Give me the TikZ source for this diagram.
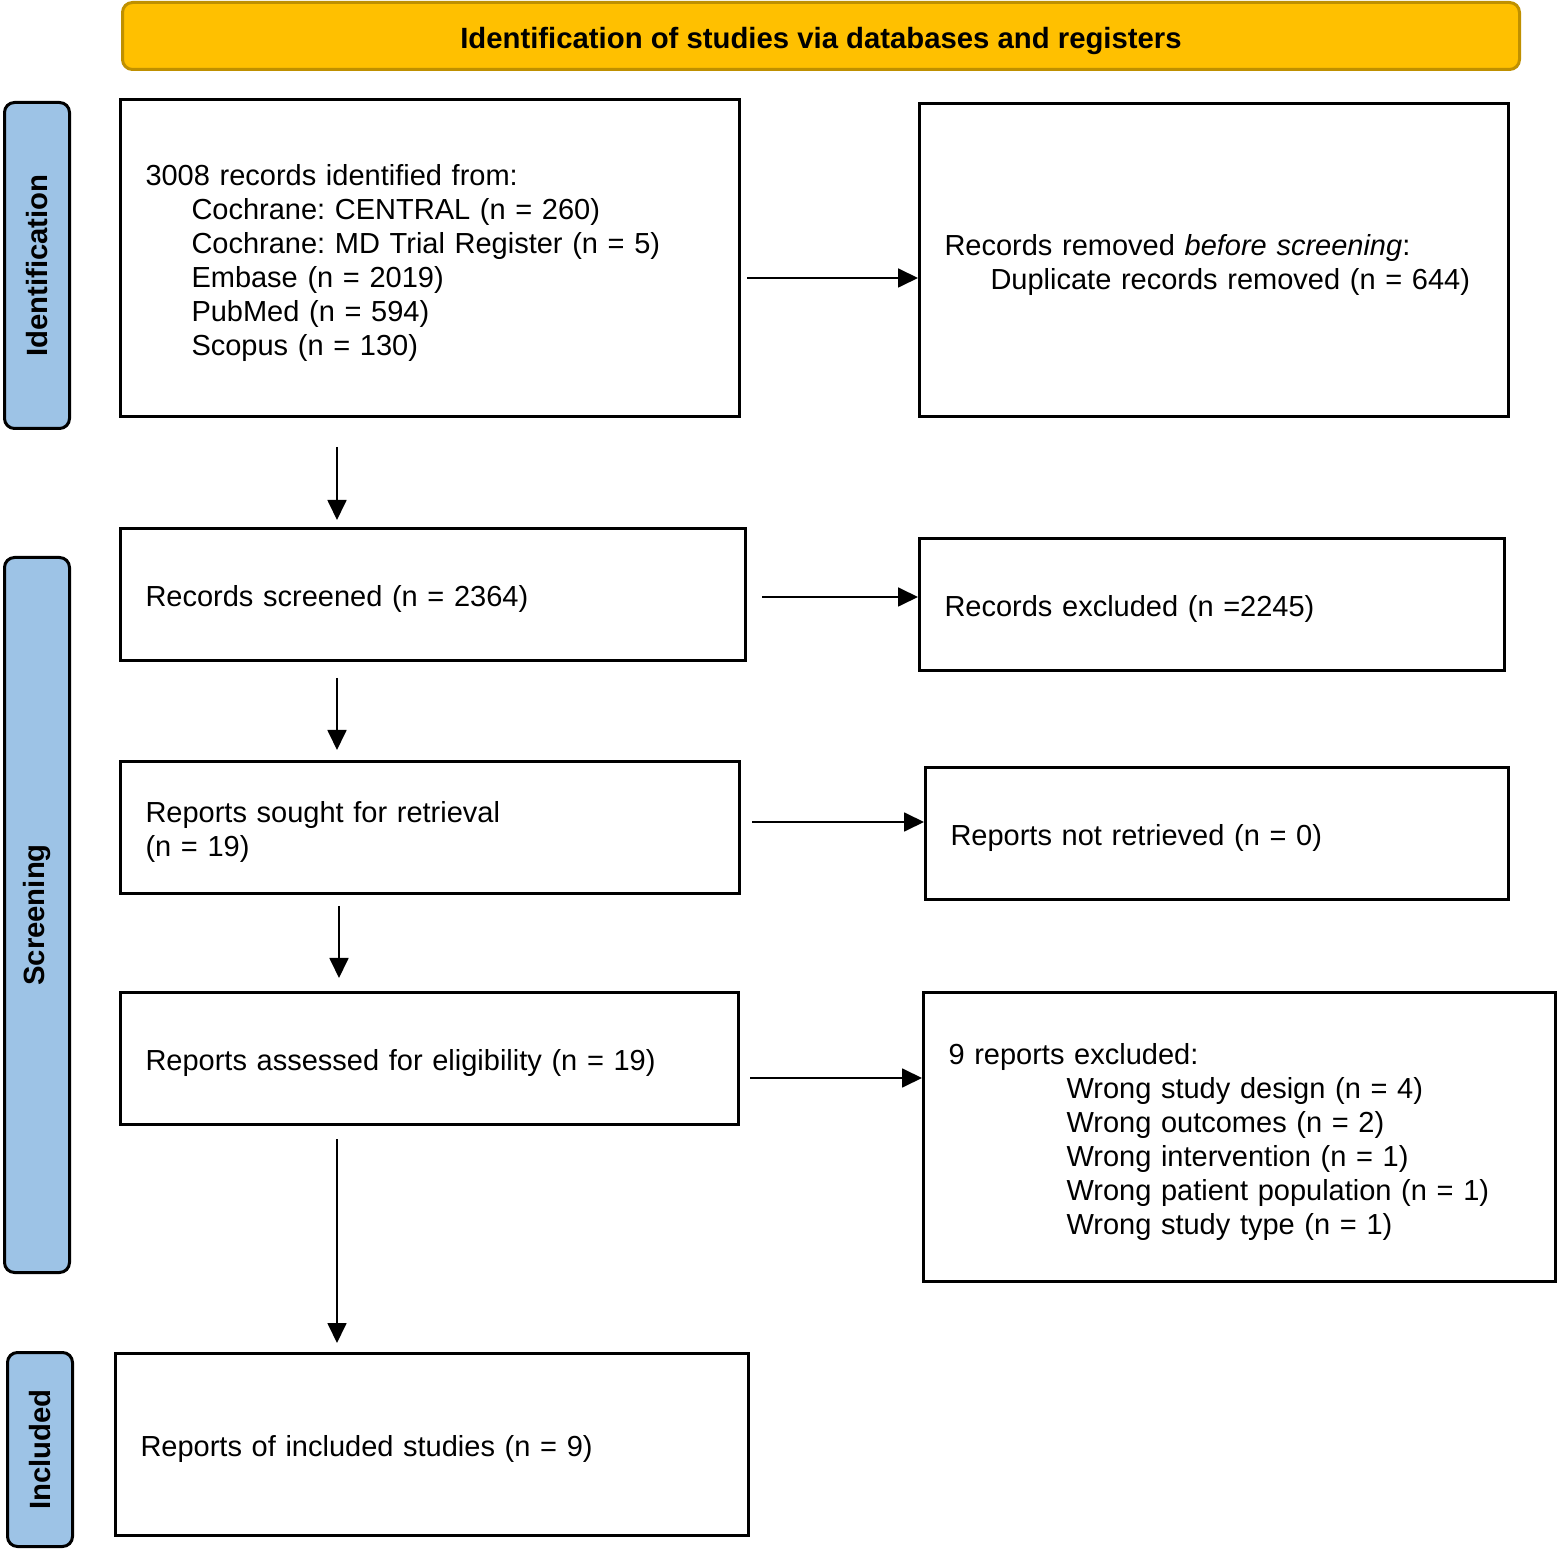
\documentclass[tikz,border=0pt]{standalone}
\usepackage{fontspec}
\setmainfont{Liberation Sans}
\frenchspacing
\definecolor{head}{RGB}{255,192,0}
\definecolor{head-line}{RGB}{191,144,0}
\definecolor{phase}{RGB}{157,195,230}
\usetikzlibrary{
  arrows.meta,     % triangle arrow tips
  positioning      % positions like below of node
}
\tikzset{
  node distance=4ex and 4ex,
  every node/.style = {
    font=\fontsize{14.5pt}{17pt}\selectfont
  },
  box/.style 2 args = {
    rectangle,
    draw,
    line width=1.5pt,
    text width=#1,
    minimum height=#2,
    inner xsep=12.5pt,
    inner ysep=3pt,
    align=left,
    execute at begin node={\rule{0pt}{15.5pt}}
  },
  phase/.style = {
    rectangle,
    rounded corners=5pt,
    draw,
    line width=1.5pt,
    fill=phase,
    rotate=90,
    minimum height=32.5pt,
    font=\fontsize{14.65pt}{17pt}\selectfont\bfseries
  },
  header/.style = {
    rectangle,
    rounded corners=5pt,
    draw=head-line,
    line width=1.5pt,
    fill=head,
    minimum width=698.5pt,
    minimum height=33.5pt,
    font=\fontsize{14.65pt}{17pt}\selectfont\bfseries,
    execute at begin node={\rule{0pt}{15.5pt}}
  },
  flow/.style = {line width=0.9pt},
  ->,        % arrows for all
  >={Triangle[length=10pt,width=9.5pt]}  % arrow type
}
\newcommand{\ind}[1]{\hspace*{#1}}

\begin{document}
\begin{tikzpicture}[x=0.5pt,y=-0.5pt]

  \useasboundingbox (0,0) rectangle (1559,1550);

  %% nodes
  \node[header] (title) at (821,36) {Identification of studies via databases and registers};

  \node[phase, minimum width=163pt] (ident) at (37,265.5) {Identification};
  \node[phase, minimum width=357.5pt] (screen) at (37,915) {Screening};
  \node[phase, minimum width=97pt] (incl) at (40,1449.5) {Included};

  \node[box={284.5pt}{158.5pt}, anchor=north west] (rec) at (119,98)
    {3008 records identified from:\\
     \ind{23pt}Cochrane: CENTRAL (n = 260)\\
     \ind{23pt}Cochrane: MD Trial Register (n = 5)\\
     \ind{23pt}Embase (n = 2019)\\
     \ind{23pt}PubMed (n = 594)\\
     \ind{23pt}Scopus (n = 130)};

  \node[box={269.5pt}{156.5pt}, right=88.5pt of rec.north east, anchor=north west, yshift=-2pt] (dup)
    {Records removed \textit{before screening}:\\
     \ind{23pt}Duplicate records removed (n = 644)};

  \node[box={287.5pt}{66pt}, below=54.5pt of rec.south west, anchor=north west] (scr)
    {Records screened (n = 2364)};

  \node[box={267.5pt}{66pt}, right=85.5pt of scr.north east, anchor=north west, yshift=-5pt] (excl)
    {Records excluded (n =2245)};

  \node[box={284.5pt}{66pt}, below=49pt of scr.south west, anchor=north west] (sought)
    {Reports sought for retrieval\\(n = 19)};

  \node[box={266.5pt}{66pt}, right=91.5pt of sought.north east, anchor=north west, yshift=-3pt] (notret)
    {Reports not retrieved (n = 0)};

  \node[box={284pt}{66pt}, below=48pt of sought.south west, anchor=north west] (elig)
    {Reports assessed for eligibility (n = 19)};

  \node[box={291pt}{144.5pt}, right=91pt of elig.north east, anchor=north west] (why)
    {9 reports excluded:\\
     \ind{59pt}Wrong study design (n = 4)\\
     \ind{59pt}Wrong outcomes (n = 2)\\
     \ind{59pt}Wrong intervention (n = 1)\\
     \ind{59pt}Wrong patient population (n = 1)\\
     \ind{59pt}Wrong study type (n = 1)};

  \node[box={291.5pt}{91pt}, below=113pt of elig.south west, anchor=north west, xshift=-2.5pt] (studies)
    {Reports of included studies (n = 9)};

  \coordinate (col) at (337,0);
  \coordinate (colb) at (339,0);

  %% arrows
  \draw[flow, shorten <=14.5pt, shorten >=3.5pt] (rec.south -| col) -- (scr.north -| col);
  \draw[flow, shorten <=8pt, shorten >=5pt] (scr.south -| col) -- (sought.north -| col);
  \draw[flow, shorten <=5.5pt, shorten >=6.5pt] (sought.south -| colb) -- (elig.north -| colb);
  \draw[flow, shorten <=6.5pt, shorten >=4.5pt] (elig.south -| col) -- (studies.north -| col);

  \draw[flow, shorten <=3pt] ([yshift=-10pt]rec.east) -- ([yshift=-10pt]rec.east -| dup.west);
  \draw[flow, shorten <=7.5pt] ([yshift=-1.25pt]scr.east) -- ([yshift=-1.25pt]scr.east -| excl.west);
  \draw[flow, shorten <=5.5pt] ([yshift=2.75pt]sought.east) -- ([yshift=2.75pt]sought.east -| notret.west);
  \draw[flow, shorten <=5pt] ([yshift=-9.75pt]elig.east) -- ([yshift=-9.75pt]elig.east -| why.west);

\end{tikzpicture}
\end{document}
